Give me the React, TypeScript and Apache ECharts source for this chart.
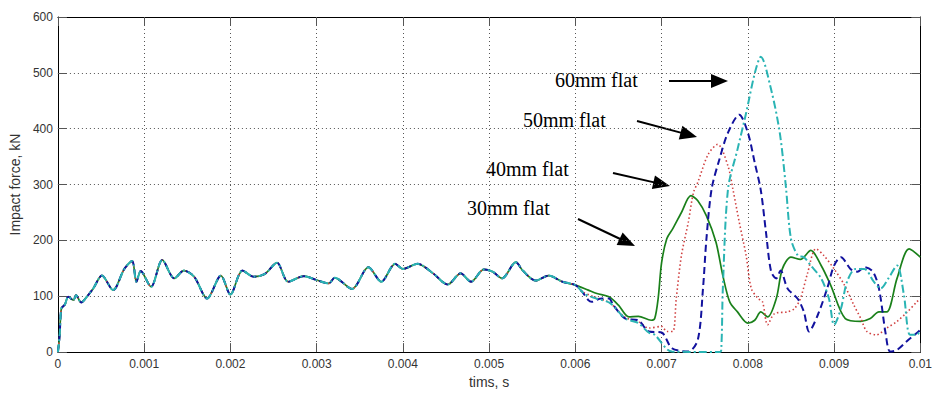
import React, { useEffect, useRef } from "react";
import * as echarts from "echarts";

// Time (s), impact force (kN) — shared initial part of all four curves
const common: number[][] = [
  [0, 0], [0.00002, 30], [0.00004, 78], [0.00008, 85], [0.00012, 99], [0.00018, 93],
  [0.00021, 102], [0.00027, 89], [0.00034, 100], [0.00041, 114], [0.00051, 137],
  [0.00064, 111], [0.00077, 149], [0.00086, 163], [0.00091, 126], [0.00096, 145],
  [0.00108, 117], [0.00121, 165], [0.00135, 132], [0.00146, 146], [0.00158, 135],
  [0.00173, 96], [0.00189, 137], [0.002, 103], [0.00214, 146], [0.00227, 135],
  [0.0024, 140], [0.00254, 160], [0.00267, 126], [0.00285, 136], [0.003, 129],
  [0.00314, 123], [0.00321, 133], [0.00341, 113], [0.0036, 152], [0.00375, 126],
  [0.00391, 158], [0.004, 149], [0.00417, 158], [0.00435, 141], [0.00452, 121],
  [0.00467, 141], [0.00479, 126], [0.00494, 148], [0.00504, 144], [0.00515, 132],
  [0.00531, 161], [0.00539, 146], [0.00554, 128], [0.00569, 137], [0.00585, 126],
  [0.006, 120],
];

const tail30: number[][] = [
  [0.00615, 111], [0.00625, 105], [0.00639, 99], [0.0065, 84], [0.00662, 63],
  [0.00673, 64], [0.00688, 57], [0.00692, 60], [0.00696, 96], [0.007, 160],
  [0.00706, 203], [0.00713, 221], [0.00723, 250], [0.00734, 280], [0.00742, 271],
  [0.00752, 244], [0.00763, 197], [0.00771, 137], [0.00779, 90], [0.00788, 72],
  [0.008, 52], [0.00808, 57], [0.00815, 72], [0.00823, 63], [0.00833, 96],
  [0.0084, 149], [0.0085, 170], [0.00861, 166], [0.00873, 182], [0.00885, 155],
  [0.00896, 120], [0.00913, 60], [0.00931, 55], [0.00942, 60], [0.00952, 72],
  [0.00961, 72], [0.00973, 132], [0.00987, 185], [0.01, 170],
];

const tail40: number[][] = [
  [0.00608, 108], [0.0062, 100], [0.0064, 88], [0.00658, 62], [0.00673, 55],
  [0.00685, 43], [0.007, 46], [0.00706, 37], [0.00713, 37], [0.00717, 96],
  [0.00723, 173], [0.00731, 233], [0.00737, 286], [0.00742, 304], [0.00754, 354],
  [0.00765, 372], [0.00777, 333], [0.00783, 289], [0.0079, 233], [0.00798, 173],
  [0.00804, 114], [0.00812, 96], [0.00817, 90], [0.00823, 49], [0.00831, 69],
  [0.00846, 72], [0.00854, 78], [0.00861, 96], [0.00869, 140], [0.00879, 185],
  [0.00888, 173], [0.009, 149], [0.00912, 120], [0.00923, 84], [0.00931, 60],
  [0.00938, 37], [0.00949, 31], [0.00961, 43], [0.00973, 55], [0.00985, 72],
  [0.00996, 90], [0.01, 96],
];

const tail50: number[][] = [
  [0.00608, 108], [0.00615, 93], [0.00619, 90], [0.0063, 96], [0.00639, 96],
  [0.00644, 84], [0.00658, 60], [0.00673, 57], [0.00685, 37], [0.007, 35],
  [0.00712, 7], [0.00731, 1], [0.00742, 22], [0.00748, 114], [0.00752, 203],
  [0.00758, 292], [0.00767, 345], [0.00777, 393], [0.0079, 425], [0.008, 393],
  [0.00808, 339], [0.00815, 290], [0.00821, 215], [0.00827, 144], [0.00833, 132],
  [0.00838, 146], [0.00846, 114], [0.00858, 95], [0.00865, 72], [0.00871, 37],
  [0.00881, 66], [0.00892, 114], [0.009, 155], [0.00908, 170], [0.00919, 149],
  [0.00927, 144], [0.00935, 152], [0.00945, 144], [0.00952, 114], [0.0096, 31],
  [0.00965, 1], [0.00973, 4], [0.00984, 19], [0.00998, 37], [0.01, 40],
];

const tail60: number[][] = [
  [0.0061, 105], [0.0062, 98], [0.0064, 88], [0.00658, 60], [0.00673, 52],
  [0.00685, 35], [0.00692, 31], [0.00712, 1], [0.00766, 0], [0.00769, 2],
  [0.00771, 114], [0.00777, 292], [0.00788, 363], [0.00798, 428], [0.00808, 499],
  [0.00815, 529], [0.00827, 470], [0.00837, 393], [0.00844, 298], [0.0085, 203],
  [0.00858, 173], [0.00865, 170], [0.00873, 155], [0.00885, 132], [0.00894, 96],
  [0.009, 49], [0.00908, 78], [0.00915, 126], [0.00925, 149], [0.00935, 149],
  [0.00946, 126], [0.00954, 114], [0.00963, 132], [0.00973, 155], [0.00981, 102],
  [0.00988, 31], [0.00996, 31], [0.01, 40],
];

const seriesNames = ["30mm flat", "40mm flat", "50mm flat", "60mm flat"];
const labelFont = "'Liberation Sans', Arial, sans-serif";

function arrow(x1: number, y1: number, x2: number, y2: number) {
  const L = 17, W = 14;
  const dx = x2 - x1, dy = y2 - y1;
  const len = Math.hypot(dx, dy);
  const ux = dx / len, uy = dy / len;
  const bx = x2 - ux * L, by = y2 - uy * L;
  const nx = -uy, ny = ux;
  return [
    { type: "line", shape: { x1, y1, x2: bx + ux * 3, y2: by + uy * 3 }, style: { stroke: "#000", lineWidth: 2 } },
    {
      type: "polygon",
      shape: { points: [[x2, y2], [bx + (nx * W) / 2, by + (ny * W) / 2], [bx - (nx * W) / 2, by - (ny * W) / 2]] },
      style: { fill: "#000" },
    },
  ];
}

function note(text: string, x: number, y: number) {
  return {
    type: "text",
    x,
    y,
    style: { text, fontSize: 20, fontFamily: "'Liberation Serif', 'Times New Roman', serif", fill: "#000", verticalAlign: "middle", align: "left" },
  };
}

export default function App() {
  const ref = useRef<HTMLDivElement>(null);
  useEffect(() => {
    const chart = echarts.init(ref.current!, null, { renderer: "svg" });
    const fmt = (v: number) => String(parseFloat(v.toFixed(4)));
    const gridLine = { show: true, lineStyle: { color: "#555", width: 1, type: [1, 3] } };
    const tick = { show: true, inside: true, length: 9, lineStyle: { color: "#555" } };
    const axLine = { show: true, onZero: false, lineStyle: { color: "#000", width: 1 } };
    chart.setOption({
      animation: false,
      backgroundColor: "#fff",
      grid: { left: 56, right: 10, top: 17, bottom: 39 },
      xAxis: [
        {
          type: "value", min: 0, max: 0.01, interval: 0.001, position: "bottom",
          axisLine: axLine, axisTick: tick, splitLine: gridLine,
          axisLabel: { formatter: fmt, fontSize: 12, color: "#333", margin: 6, fontFamily: labelFont },
          name: "tims, s", nameLocation: "middle", nameGap: 13,
          nameTextStyle: { fontSize: 14, color: "#333", fontFamily: labelFont, verticalAlign: "top" },
        },
        {
          type: "value", min: 0, max: 0.01, interval: 0.001, position: "top",
          axisLine: axLine, axisTick: tick, splitLine: { show: false }, axisLabel: { show: false },
        },
      ],
      yAxis: [
        {
          type: "value", min: 0, max: 600, interval: 100, position: "left",
          axisLine: axLine, axisTick: tick, splitLine: gridLine,
          axisLabel: { fontSize: 12, color: "#333", margin: 5, fontFamily: labelFont },
          name: "Impact force, kN", nameLocation: "middle", nameGap: 33,
          nameTextStyle: { fontSize: 14, color: "#333", fontFamily: labelFont },
        },
        {
          type: "value", min: 0, max: 600, interval: 100, position: "right",
          axisLine: axLine, axisTick: tick, splitLine: { show: false }, axisLabel: { show: false },
        },
      ],
      series: [
        { name: seriesNames[0], type: "line", data: [...common, ...tail30], showSymbol: false, smooth: 0.3, lineStyle: { color: "#1a801a", width: 1.7, type: "solid" } },
        { name: seriesNames[1], type: "line", data: [...common, ...tail40], showSymbol: false, smooth: 0.3, lineStyle: { color: "#d04040", width: 1.6, type: [1.5, 2.5] } },
        { name: seriesNames[2], type: "line", data: [...common, ...tail50], showSymbol: false, smooth: 0.3, lineStyle: { color: "#12129e", width: 2, type: [7, 4] } },
        { name: seriesNames[3], type: "line", data: [...common, ...tail60], showSymbol: false, smooth: 0.3, lineStyle: { color: "#2ab4b4", width: 2, type: [8, 3, 2, 3] } },
      ],
      graphic: [
        note(seriesNames[3], 555, 80),
        note(seriesNames[2], 523, 120),
        note(seriesNames[1], 486, 169),
        note(seriesNames[0], 467, 208),
        ...arrow(669, 81, 728, 81),
        ...arrow(637, 121, 697, 137),
        ...arrow(613, 173, 670, 186),
        ...arrow(578, 219, 635, 246),
      ],
    });
    return () => chart.dispose();
  }, []);
  return <div ref={ref} style={{ position: "fixed", left: 0, top: 0, width: 935, height: 394 }} />;
}
